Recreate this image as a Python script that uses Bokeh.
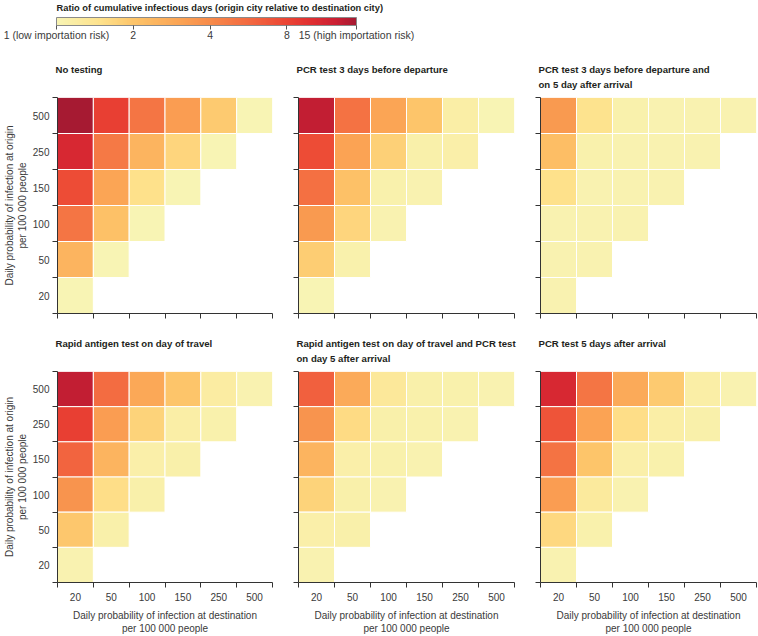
import numpy as np
from bokeh.plotting import figure
from bokeh.models import (ColumnDataSource, LogColorMapper, ColorBar, FixedTicker,
                          Range1d, Title)
from bokeh.layouts import column, row
from bokeh.embed import file_html
from bokeh.resources import INLINE

# ---------------- data ----------------
ORIGIN = ["500", "250", "150", "100", "50", "20"]        # rows, top to bottom
DEST = ["20", "50", "100", "150", "250", "500"]          # columns, left to right

TITLES = [
    "No testing",
    "PCR test 3 days before departure",
    "PCR test 3 days before departure and\non 5 day after arrival",
    "Rapid antigen test on day of travel",
    "Rapid antigen test on day of travel and PCR test\non day 5 after arrival",
    "PCR test 5 days after arrival",
]

no_testing = [
    [25, 8.5, 5, 3.3, 1.9, 1],
    [11, 4.8, 2.5, 1.7, 1],
    [7.5, 3, 1.5, 1],
    [5, 2.1, 1],
    [2.5, 1],
    [1],
]
pcr_before = [
    [13, 5.2, 3.0, 2.0, 1.15, 1],
    [7.5, 3.1, 1.8, 1.1, 1.12],
    [5.3, 2.1, 1.08, 1.05],
    [3.4, 1.7, 1.05],
    [1.85, 1.08],
    [1],
]
pcr_before_day5 = [
    [3.4, 1.45, 1.08, 1.05, 1.05, 1.05],
    [2.2, 1.08, 1.05, 1.05, 1.05],
    [1.5, 1.05, 1.05, 1.05],
    [1.05, 1.05, 1.05],
    [1.05, 1.05],
    [1.05],
]
rapid_travel = [
    [13, 5.5, 2.9, 2.0, 1.2, 1.05],
    [8.5, 3.3, 1.75, 1.15, 1.08],
    [6, 2.5, 1.12, 1.1],
    [3.6, 1.55, 1.1],
    [1.95, 1.1],
    [1.05],
]
rapid_day5 = [
    [6.2, 2.8, 1.3, 1.1, 1.08, 1.05],
    [3.6, 1.6, 1.1, 1.08, 1.05],
    [2.5, 1.12, 1.08, 1.05],
    [1.75, 1.1, 1.05],
    [1.12, 1.1],
    [1.05],
]
pcr_day5 = [
    [11, 5, 2.8, 1.9, 1.15, 1.05],
    [7, 3.1, 1.55, 1.15, 1.1],
    [5.1, 2.0, 1.12, 1.08],
    [3.3, 1.25, 1.05],
    [1.65, 1.08],
    [1.05],
]
PANELS = [no_testing, pcr_before, pcr_before_day5, rapid_travel, rapid_day5, pcr_day5]

CB_TICKS = [1, 2, 4, 8, 15]
CB_LABELS = ["1 (low importation risk)", "2", "4", "8", "15 (high importation risk)"]
CB_TITLE = "Ratio of cumulative infectious days (origin city relative to destination city)"
Y_TITLE = "Daily probability of infection at origin\nper 100 000 people"
X_TITLE = "Daily probability of infection at destination\nper 100 000 people"

# ---------------- style ----------------
FONT = "Liberation Sans"
INK = "#3a3a3a"
TITLE_INK = "#231f20"

# palette approximating the reference colour bar (log spaced anchors)
anchor_t = [0.0, 0.15, 0.256, 0.406, 0.512, 0.662, 0.768, 0.85, 0.933, 1.0]
anchor_c = ["#f8f4b4", "#fee18b", "#fdc56a", "#fba555", "#f78b4a", "#f2643f",
            "#eb4534", "#e02f31", "#cb1f33", "#a61a32"]
def _rgb(h):
    return [int(h[i:i + 2], 16) for i in (1, 3, 5)]
ac = np.array([_rgb(c) for c in anchor_c], dtype=float)
ts = np.linspace(0, 1, 256)
PALETTE = ["#%02x%02x%02x" % tuple(int(round(np.interp(t, anchor_t, ac[:, k]))) for k in range(3))
           for t in ts]

mapper = LogColorMapper(palette=PALETTE, low=1, high=15)

n = len(DEST)
centers = [i + 0.5 for i in range(n)]
bounds = list(range(n + 1))


def make_panel(vals, title, col, bottom):
    xs, ys, vs = [], [], []
    for r, rowvals in enumerate(vals):
        for c, v in enumerate(rowvals):
            xs.append(c + 0.5)
            ys.append(len(ORIGIN) - 1 - r + 0.5)
            vs.append(v)
    src = ColumnDataSource(dict(x=xs, y=ys, v=vs))

    width = [285, 242, 231][col]
    mbl = [56, 13, 13][col]
    mbr = [13, 13, 2][col]
    height = 309 if bottom else 280
    mbt = 44 if bottom else 50
    mbb = 49 if bottom else 14

    # every title occupies two lines so that first lines line up across a row
    text = title if "\n" in title else title + "\n"
    t = Title(text=text, align="left", offset=-2, text_font=FONT, text_font_size="9.6px",
              text_font_style="bold", text_color=TITLE_INK, text_line_height=1.38,
              standoff=15)
    p = figure(width=width, height=height, x_range=Range1d(0, n), y_range=Range1d(0, n),
               toolbar_location=None, output_backend="svg", title=t,
               min_border_left=mbl, min_border_right=mbr,
               min_border_top=mbt, min_border_bottom=mbb)
    p.rect(x="x", y="y", width=1, height=1, source=src,
           fill_color={"field": "v", "transform": mapper},
           line_color="white", line_width=1)

    p.grid.visible = False
    p.outline_line_color = None
    p.background_fill_color = "white"
    p.border_fill_color = "white"

    ya = p.yaxis[0]
    if col == 0:
        ya.ticker = FixedTicker(ticks=centers, minor_ticks=bounds)
        ya.major_label_overrides = {c: lab for c, lab in zip(centers, ORIGIN[::-1])}
        ya.axis_label = Y_TITLE
        ya.axis_label_text_font = FONT
        ya.axis_label_text_font_size = "10px"
        ya.axis_label_text_font_style = "normal"
        ya.axis_label_text_color = INK
        ya.axis_label_standoff = 2
    else:
        ya.ticker = FixedTicker(ticks=[], minor_ticks=bounds)
    xa = p.xaxis[0]
    if bottom:
        xa.ticker = FixedTicker(ticks=centers, minor_ticks=bounds)
        xa.major_label_overrides = {c: lab for c, lab in zip(centers, DEST)}
        xa.axis_label = X_TITLE
        xa.axis_label_text_font = FONT
        xa.axis_label_text_font_size = "10px"
        xa.axis_label_text_font_style = "normal"
        xa.axis_label_text_color = INK
        xa.axis_label_standoff = 6
    else:
        xa.ticker = FixedTicker(ticks=[], minor_ticks=bounds)

    for ax in (xa, ya):
        ax.axis_line_color = "#333333"
        ax.axis_line_width = 1
        ax.major_tick_line_color = None
        ax.major_tick_in = 0
        ax.major_tick_out = 0
        ax.minor_tick_line_color = "#333333"
        ax.minor_tick_in = 0
        ax.minor_tick_out = 5
        ax.major_label_text_font = FONT
        ax.major_label_text_font_size = "10px"
        ax.major_label_text_color = INK
    ya.major_label_standoff = 3
    xa.major_label_standoff = 5
    return p


panels = [make_panel(PANELS[i], TITLES[i], i % 3, i >= 3) for i in range(6)]

# ---------------- colour bar ----------------
cbf = figure(width=758, height=47, x_range=Range1d(0, 1), y_range=Range1d(0, 1),
             toolbar_location=None, output_backend="svg",
             min_border_left=0, min_border_right=0, min_border_top=0, min_border_bottom=0,
             x_axis_type=None, y_axis_type=None)
cbf.grid.visible = False
cbf.outline_line_color = None
cb = ColorBar(color_mapper=mapper, orientation="horizontal", width=300, height=8,
              location=(56, 4), padding=0,
              ticker=FixedTicker(ticks=CB_TICKS),
              major_label_overrides={t: l for t, l in zip(CB_TICKS, CB_LABELS)},
              major_label_text_font=FONT, major_label_text_font_size="10.5px",
              major_label_text_color=INK,
              major_tick_in=0, major_tick_out=4, major_tick_line_color="#555555",
              bar_line_color="#8a8a8a", bar_line_width=1,
              label_standoff=-1,
              title=CB_TITLE, title_text_font=FONT, title_text_font_size="9.3px",
              title_text_font_style="bold", title_text_color=TITLE_INK, title_standoff=10,
              background_fill_alpha=0, border_line_color=None)
cbf.add_layout(cb, "center")

layout = column(cbf, row(*panels[:3]), row(*panels[3:]))

open("out.html", "w").write(file_html(layout, INLINE))
